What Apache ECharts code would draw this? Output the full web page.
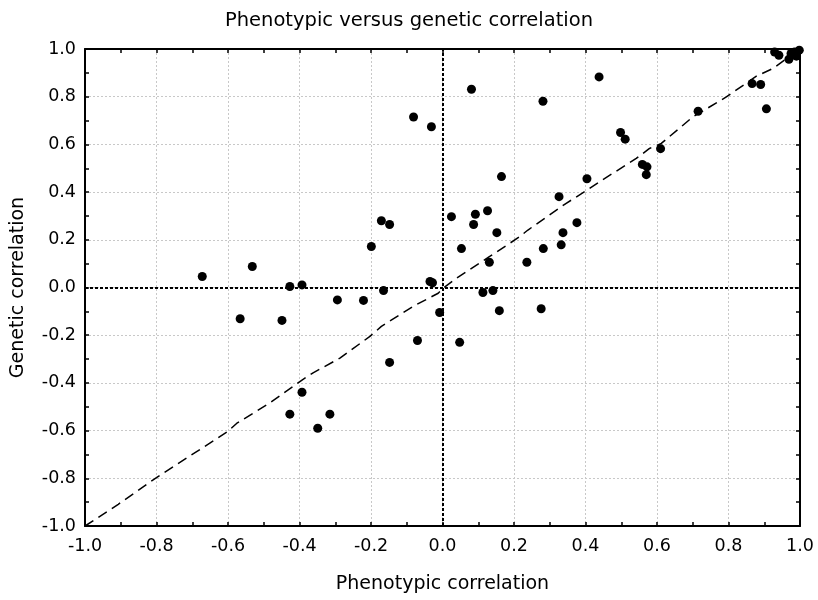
<!DOCTYPE html>
<html>
<head>
<meta charset="utf-8">
<script src="https://cdn.jsdelivr.net/npm/echarts@6/dist/echarts.min.js"></script>
<style>html,body{margin:0;padding:0;background:#fff}#c{width:818px;height:600px}</style>
</head>
<body>
<div id="c"></div>
<script>
var phenotypic = [-0.672,-0.566,-0.532,-0.449,-0.427,-0.427,-0.393,-0.393,-0.349,-0.315,-0.294,-0.221,-0.199,-0.171,-0.165,-0.148,-0.148,-0.081,-0.070,-0.035,-0.028,-0.031,-0.008,0.025,0.048,0.053,0.081,0.087,0.092,0.113,0.126,0.131,0.141,0.152,0.159,0.165,0.236,0.276,0.281,0.282,0.326,0.332,0.337,0.376,0.404,0.438,0.498,0.511,0.559,0.572,0.570,0.610,0.715,0.866,0.890,0.906,0.929,0.941,0.969,0.975,0.985,0.998,0.990];
var genetic = [0.046,-0.131,0.088,-0.138,0.004,-0.531,0.011,-0.439,-0.590,-0.531,-0.052,-0.054,0.172,0.280,-0.013,0.264,-0.314,0.715,-0.222,0.025,0.020,0.674,-0.105,0.297,-0.230,0.163,0.831,0.264,0.307,-0.021,0.322,0.106,-0.013,0.230,-0.097,0.465,0.106,-0.089,0.781,0.163,0.381,0.179,0.230,0.272,0.456,0.883,0.650,0.622,0.516,0.506,0.473,0.582,0.739,0.855,0.851,0.749,0.987,0.974,0.957,0.981,0.987,0.995,0.970];
var fitX = [-1.0,-0.907,-0.8,-0.6,-0.576,-0.483,-0.394,-0.362,-0.287,-0.203,-0.171,-0.082,-0.012,0.002,0.039,0.132,0.216,0.239,0.346,0.398,0.440,0.542,0.579,0.612,0.700,0.794,0.878,0.924,1.0];
var fitY = [-1.0,-0.909,-0.797,-0.603,-0.570,-0.484,-0.389,-0.358,-0.296,-0.205,-0.163,-0.079,-0.024,-0.003,0.039,0.130,0.213,0.241,0.353,0.402,0.444,0.541,0.583,0.604,0.715,0.799,0.886,0.918,1.0];
var axisMin = -1.0, axisMax = 1.0, axisStep = 0.2;

var points = phenotypic.map(function(x, i){ return [x, genetic[i]]; });
var fit = fitX.map(function(x, i){ return [x, fitY[i]]; });
var FONT = 'DejaVu Sans';
function fmt(v){ return v.toFixed(1); }
function mainAxis(extra){
  var a = {
    type: 'value', min: axisMin, max: axisMax, interval: axisStep,
    axisLine: {show: true, onZero: false, lineStyle: {color: '#000', width: 2}},
    axisTick: {show: true, inside: true, length: 4, lineStyle: {color: '#000', width: 1.5}},
    minorTick: {show: true, splitNumber: 2, length: 4, lineStyle: {color: '#000', width: 1.5}},
    splitLine: {show: true, lineStyle: {color: '#c8c8c8', type: [2, 2], width: 1}},
    axisLabel: {color: '#000', fontFamily: FONT, fontSize: 17, formatter: fmt}
  };
  for (var k in extra) a[k] = extra[k];
  return a;
}
var chart = echarts.init(document.getElementById('c'), null, {renderer: 'canvas'});
chart.setOption({
  animation: false,
  backgroundColor: '#fff',
  title: {text: 'Phenotypic versus genetic correlation', left: 'center', top: 6,
    textStyle: {fontFamily: FONT, fontSize: 19.5, fontWeight: 'normal', color: '#000'}},
  grid: {left: 85, top: 49, width: 715, height: 477},
  xAxis: [
    mainAxis({position: 'bottom', name: 'Phenotypic correlation', nameLocation: 'middle', nameGap: 49,
      nameTextStyle: {fontFamily: FONT, fontSize: 19, color: '#000'},
      axisLabel: {color: '#000', fontFamily: FONT, fontSize: 17.5, margin: 11, formatter: fmt}}),
    mainAxis({position: 'top', splitLine: {show: false}, axisLabel: {show: false}})
  ],
  yAxis: [
    mainAxis({position: 'left', name: 'Genetic correlation', nameLocation: 'middle', nameGap: 57, nameRotate: 90,
      nameTextStyle: {fontFamily: FONT, fontSize: 19, color: '#000'},
      axisLabel: {color: '#000', fontFamily: FONT, fontSize: 17.5, margin: 9, formatter: fmt}}),
    mainAxis({position: 'right', splitLine: {show: false}, axisLabel: {show: false}})
  ],
  series: [
    {
      type: 'line', data: fit, xAxisIndex: 0, yAxisIndex: 0,
      showSymbol: false, symbol: 'none', smooth: false, silent: true,
      lineStyle: {color: '#000', width: 1.5, type: [10, 6]}, z: 3,
      markLine: {
        silent: true, symbol: 'none', label: {show: false},
        lineStyle: {color: '#000', width: 2, type: [3, 2]},
        data: [{xAxis: 0}, {yAxis: 0}]
      }
    },
    {
      type: 'scatter', data: points, xAxisIndex: 0, yAxisIndex: 0,
      symbol: 'circle', symbolSize: 9, clip: false,
      itemStyle: {color: '#000', opacity: 1}, z: 4
    }
  ]
});
</script>
</body>
</html>
